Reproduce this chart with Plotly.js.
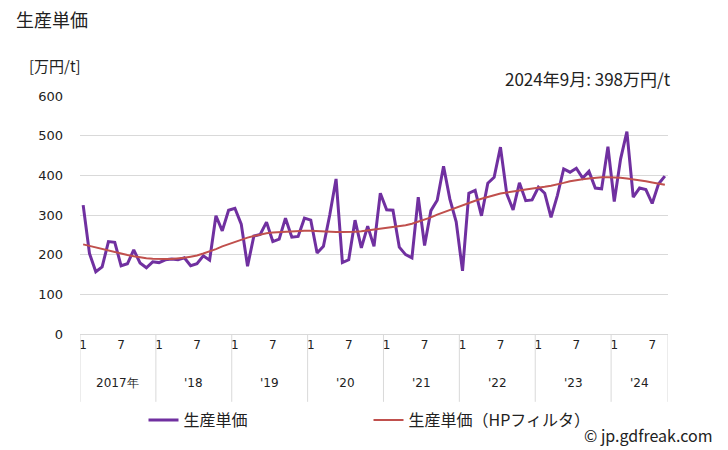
<!DOCTYPE html>
<html>
<head>
<meta charset="utf-8">
<script src="https://cdn.plot.ly/plotly-3.0.1.min.js"></script>
<style>
html,body{margin:0;padding:0;background:#fff;}
#chart{width:728px;height:450px;}
</style>
</head>
<body>
<div id="chart"></div>
<script>
// Monthly data, Jan 2017 - Sep 2024 (万円/t)
var years = [2017, 2018, 2019, 2020, 2021, 2022, 2023, 2024];
var yearLabels = ["2017年", "'18", "'19", "'20", "'21", "'22", "'23", "'24"];
var monthTickLabels = ["1", "7"];
var price = [
  325,203,157,169,233,231,172,177,212,179,167,182,
  180,187,189,187,192,172,177,197,186,298,260,312,
  317,277,171,247,251,282,233,239,292,244,246,292,
  287,204,221,300,391,180,187,287,217,272,221,355,
  313,312,219,200,192,345,223,311,337,423,340,283,
  159,355,362,298,380,395,471,353,313,381,336,338,
  370,355,294,349,416,408,418,393,410,368,366,472,
  334,441,510,345,368,364,329,378,398
];
var priceHP = [
  226,222,218,214,210,207,203,199,196,193,191,190,
  189,189,189,190,192,195,198,203,208,214,221,227,
  233,238,243,247,251,254,256,257,258,259,260,260,
  260,259,258,258,257,257,257,258,259,261,263,265,
  267,269,271,274,278,283,288,294,301,307,313,319,
  325,331,336,341,346,350,354,357,360,362,364,366,
  368,371,374,377,381,385,388,390,392,394,395,395,
  395,394,392,390,388,385,382,379,376
];
var latestLabel = "2024年9月: 398万円/t";

var n = price.length;
var idx = [];
for (var i = 0; i < n; i++) idx.push(i);

var tickvals = [], ticktext = [];
for (var y = 0; y < years.length; y++) {
  for (var k = 0; k < monthTickLabels.length; k++) {
    var m = parseInt(monthTickLabels[k], 10) - 1;
    var pos = y * 12 + m;
    if (pos < n) { tickvals.push(pos); ticktext.push(monthTickLabels[k]); }
  }
}

var sepColor = "#d9d9d9";
var shapes = [], annotations = [];
for (var y = 0; y < years.length; y++) {
  var start = y * 12;
  var end = Math.min(start + 12, n);
  shapes.push({type:"line", xref:"x", yref:"paper", x0:start-0.5, x1:start-0.5, y0:0, y1:-0.285,
    line:{color:sepColor, width:1}});
  annotations.push({xref:"x", yref:"paper", x:(start+end-1)/2, y:-0.205, text:yearLabels[y],
    showarrow:false, xanchor:"center", yanchor:"middle",
    font:{family:"DejaVu Sans, Verdana, sans-serif", size:12, color:"#222"}});
}
shapes.push({type:"line", xref:"x", yref:"paper", x0:n-0.5, x1:n-0.5, y0:0, y1:-0.285,
  line:{color:sepColor, width:1}});

annotations.push({xref:"paper", yref:"paper", x:-0.09, y:1.13, text:"[万円/t]", showarrow:false,
  xanchor:"left", yanchor:"middle", font:{family:"Noto Sans CJK JP", size:15, color:"#222"}});
annotations.push({xref:"paper", yref:"paper", x:1.008, y:1.075, text:latestLabel, showarrow:false,
  xanchor:"right", yanchor:"middle", font:{family:"Noto Sans CJK JP", size:17, color:"#222"}});
annotations.push({xref:"paper", yref:"paper", x:1.08, y:-0.425, text:"© jp.gdfreak.com", showarrow:false,
  xanchor:"right", yanchor:"middle", font:{family:"Noto Sans CJK JP", size:16, color:"#222"}});

var traces = [
  {x: idx, y: price, type:"scatter", mode:"lines", name:"生産単価",
   line:{color:"#7030a0", width:3}},
  {x: idx, y: priceHP, type:"scatter", mode:"lines", name:"生産単価（HPフィルタ）",
   line:{color:"#c0504d", width:2}}
];

var layout = {
  width:728, height:450,
  margin:{l:80, r:60, t:96, b:116},
  paper_bgcolor:"#fff", plot_bgcolor:"#fff",
  title:{text:"生産単価", x:0.022, xanchor:"left", y:0.955, yanchor:"middle",
    font:{family:"Noto Sans CJK JP", size:18, color:"#222"}},
  xaxis:{range:[-0.5, n-0.5], tickvals:tickvals, ticktext:ticktext, showgrid:false,
    zeroline:false, showline:true, linecolor:sepColor, linewidth:1, ticks:"", ticklen:0,
    tickfont:{family:"DejaVu Sans, Verdana, sans-serif", size:12, color:"#222"}, fixedrange:true},
  yaxis:{range:[0,600], dtick:100, tick0:0, showgrid:true, gridcolor:sepColor, gridwidth:1,
    zeroline:false, showline:false, ticks:"", ticklabelstandoff:16,
    tickfont:{family:"DejaVu Sans, Verdana, sans-serif", size:13, color:"#222"}, fixedrange:true},
  showlegend:true,
  legend:{orientation:"h", x:0.108, y:-0.29, xanchor:"left", yanchor:"top",
    entrywidth:180, entrywidthmode:"pixels", itemwidth:30,
    font:{family:"Noto Sans CJK JP", size:16, color:"#222"}, bgcolor:"rgba(0,0,0,0)"},
  shapes:shapes,
  annotations:annotations
};

Plotly.newPlot("chart", traces, layout, {displayModeBar:false, staticPlot:true});
</script>
</body>
</html>
